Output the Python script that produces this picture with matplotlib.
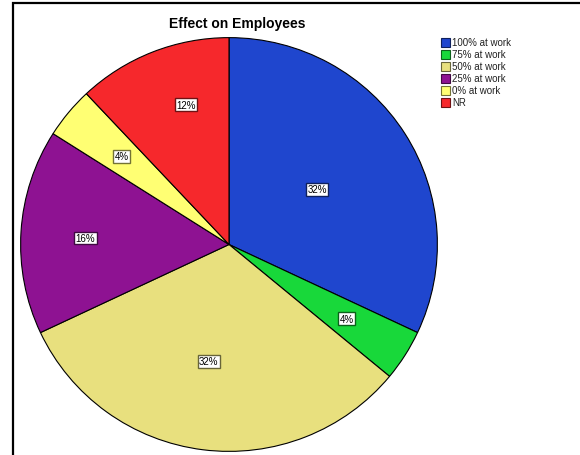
import matplotlib
matplotlib.use("Agg")
import matplotlib.pyplot as plt
import numpy as np
from matplotlib.patches import Rectangle
import matplotlib.colors as mcolors

plt.rcParams['font.family'] = ['Liberation Sans', 'DejaVu Sans']

categories = ["100% at work", "75% at work", "50% at work", "25% at work", "0% at work", "NR"]
values = [32, 4, 32, 16, 4, 12]
colors = ["#1F46CE", "#18D83A", "#E8E07E", "#8E1292", "#FFFF73", "#F6282C"]
label_dist = [0.50, 0.67, 0.573, 0.69, 0.67, 0.706]
label_angle_offset = [0, 0, -2.5, 1.0, 0, -4.6]

W, H = 580, 456
fig = plt.figure(figsize=(W / 100, H / 100), dpi=100)

cx, cy, rx, ry = 229, 245.5, 209, 207.5
ax = fig.add_axes([(cx - rx) / W, (H - cy - ry) / H, 2 * rx / W, 2 * ry / H])
wedges, _ = ax.pie(values, colors=colors, startangle=90, counterclock=False,
                   wedgeprops=dict(edgecolor="black", linewidth=0.8))
ax.set_aspect("auto")
ax.set_xlim(-1.003, 1.003)
ax.set_ylim(-1.003, 1.003)
ax.axis("off")

for w, v, c, d, off in zip(wedges, values, colors, label_dist, label_angle_offset):
    ang = np.deg2rad((w.theta1 + w.theta2) / 2 + off)
    x, y = d * np.cos(ang), d * np.sin(ang)
    ec = tuple(np.array(mcolors.to_rgb(c)) * 0.45)
    ax.text(x, y, f"{v}%", ha="center", va="center", fontsize=7,
            bbox=dict(boxstyle="square,pad=0.15", facecolor="white", edgecolor=ec, linewidth=1))

fig.text(237 / W, 1 - 24 / H, "Effect on Employees", ha="center", va="center",
         fontsize=10, fontweight="bold")

# legend
y0 = 43
for i, (cat, c) in enumerate(zip(categories, colors)):
    yy = y0 + i * 12.1
    ec = tuple(np.array(mcolors.to_rgb(c)) * 0.45)
    fig.patches.append(Rectangle((441 / W, 1 - (yy + 4.5) / H), 9 / W, 9 / H,
                                 transform=fig.transFigure, facecolor=c,
                                 edgecolor=ec, linewidth=0.8))
    fig.text(452 / W, 1 - yy / H, cat, ha="left", va="center", fontsize=7, color="#222222")

# frame
fig.patches.append(Rectangle((12.5 / W, -0.1), 1.2, 1 - 4 / H + 0.1,
                             transform=fig.transFigure, facecolor="none",
                             edgecolor="black", linewidth=1.6))

fig.savefig("out.png", dpi=100)
